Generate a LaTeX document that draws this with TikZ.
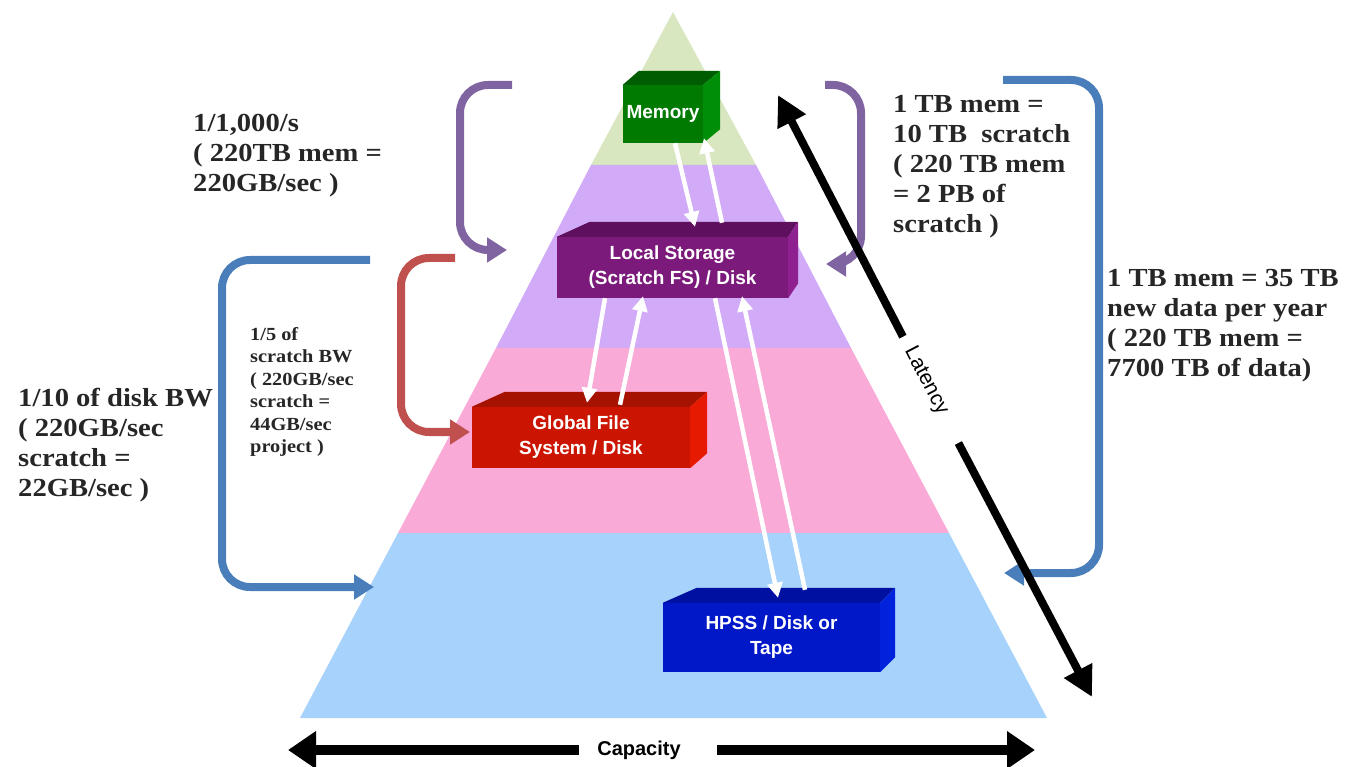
\documentclass[tikz,border=0pt]{standalone}
\usepackage{fontspec}
\setmainfont{Liberation Serif}[FakeStretch=1.1]
\newfontfamily\boxfont{Liberation Sans}
\usetikzlibrary{arrows.meta}
\definecolor{bandgreen}{HTML}{D8E7C0}
\definecolor{bandpurple}{HTML}{D1ABF7}
\definecolor{bandpink}{HTML}{F9AAD7}
\definecolor{bandblue}{HTML}{A6D2FB}
\definecolor{brpurple}{HTML}{8064A2}
\definecolor{brred}{HTML}{C0504D}
\definecolor{brblue}{HTML}{4A7EBB}
\definecolor{notegray}{HTML}{262626}
\definecolor{memfront}{HTML}{007A00}
\definecolor{memtop}{HTML}{005C00}
\definecolor{memside}{HTML}{008E08}
\definecolor{locfront}{HTML}{7B1A7B}
\definecolor{loctop}{HTML}{5E0F5E}
\definecolor{locside}{HTML}{8E2090}
\definecolor{glofront}{HTML}{CC1500}
\definecolor{glotop}{HTML}{A51200}
\definecolor{gloside}{HTML}{E51A00}
\definecolor{hpfront}{HTML}{0018C8}
\definecolor{hptop}{HTML}{0010A0}
\definecolor{hpside}{HTML}{0022DD}
\newcommand\cubefaces[6]{%
  \fill[#5] (#1.north west) -- ++(#2,-#4) -- ([xshift=#3pt,yshift=#4pt]#1.north east) -- (#1.north east) -- cycle;
  \fill[#6] (#1.north east) -- ([xshift=#3pt,yshift=#4pt]#1.north east) -- ([xshift=#3pt,yshift=#4pt]#1.south east) -- (#1.south east) -- cycle;}
\begin{document}
\begin{tikzpicture}[x=1pt,y=-1pt,
  note/.style={font=\fontsize{26}{30}\selectfont\bfseries, align=left, inner sep=0pt, text=notegray},
  smallnote/.style={font=\fontsize{18.5}{22.5}\selectfont\bfseries, align=left, inner sep=0pt, text=notegray},
  cubefront/.style={inner sep=0pt, text=white, font=\boxfont\bfseries\fontsize{19}{25}\selectfont, align=center},
  bracket/.style={line width=8pt, rounded corners=28pt, -{Triangle[length=20pt,width=24pt]}},
  whitearrow/.style={draw=white, line width=4.5pt, -{Triangle[length=15pt,width=15pt]}},
  blackarrow/.style={draw=black, line width=8pt, -{Triangle[length=30pt,width=30pt]}},
  caparrow/.style={draw=black, line width=10pt, -{Triangle[length=28pt,width=36pt]}}]
\useasboundingbox (0,0) rectangle (1345,767);
% pyramid bands
\fill[bandgreen] (673,12) -- (756,165) -- (591,165) -- cycle;
\fill[bandpurple] (591,165) -- (756,165) -- (851,348) -- (496,348) -- cycle;
\fill[bandpink] (496,348) -- (851,348) -- (949,533) -- (398,533) -- cycle;
\fill[bandblue] (398,533) -- (949,533) -- (1047,718) -- (300,718) -- cycle;
% boxes
\node[cubefront, fill=memfront, minimum width=80, minimum height=58] (mem) at (663,114) {Memory};
\cubefaces{mem}{16}{17}{14}{memtop}{memside}
\node[cubefront, fill=locfront, minimum width=231, minimum height=61] (loc) at (672.5,267.5) {Local Storage\\(Scratch FS) / Disk};
\cubefaces{loc}{33}{10}{15}{loctop}{locside}
\node[cubefront, fill=glofront, minimum width=218, minimum height=61] (glo) at (581,437.5) {Global File\\System / Disk};
\cubefaces{glo}{33}{17}{15}{glotop}{gloside}
\node[cubefront, fill=hpfront, minimum width=217, minimum height=69] (hp) at (771.5,637.5) {HPSS / Disk or\\Tape};
\cubefaces{hp}{34}{15}{15}{hptop}{hpside}
% white arrows
\draw[whitearrow] ([xshift=12pt]mem.south) -- ([xshift=22.5pt,yshift=10pt]loc.north);
\draw[whitearrow] ([xshift=49.5pt,yshift=14pt]loc.north) -- ([xshift=41pt,yshift=5pt]mem.south);
\draw[whitearrow] ([xshift=-67.5pt]loc.south) -- ([xshift=6pt,yshift=4pt]glo.north);
\draw[whitearrow] ([xshift=39pt,yshift=2pt]glo.north) -- ([xshift=-29.5pt,yshift=2pt]loc.south);
\draw[whitearrow] ([xshift=42.5pt]loc.south) -- ([xshift=6.5pt,yshift=5pt]hp.north);
\draw[whitearrow] ([xshift=33.5pt,yshift=13pt]hp.north) -- ([xshift=69.5pt,yshift=2pt]loc.south);
% notes (anchored at the baseline of their last line)
\node[note, anchor=base west] (tl) at (193,192) {1/1,000/s\\( 220TB mem =\\220GB/sec )};
\node[note, anchor=base west] (tr) at (893,233) {1 TB mem =\\10 TB\ \ scratch\\( 220 TB mem\\= 2 PB of\\scratch )};
\node[note, anchor=base west] (rm) at (1107,377) {1 TB mem = 35 TB\\new data per year\\( 220 TB mem =\\7700 TB of data)};
\node[note, anchor=base west] (lm) at (18,496) {1/10 of disk BW\\( 220GB/sec\\scratch =\\22GB/sec )};
\node[smallnote, anchor=base west] (fm) at (250,453) {1/5 of\\scratch BW\\( 220GB/sec\\scratch =\\44GB/sec\\project )};
% brackets
\coordinate (pla) at (512,85);  \coordinate (plb) at (507,250);
\coordinate (pra) at (825,85);  \coordinate (prb) at (826,264);
\coordinate (rda) at (455,258); \coordinate (rdb) at (470,432);
\coordinate (bla) at (370,260); \coordinate (blb) at (374,587);
\coordinate (bra) at (1003,80); \coordinate (brb) at (1004,573);
\draw[bracket, brpurple] (pla) -- (460,85) -- (460,250) -- (plb);
\draw[bracket, brpurple] (pra) -- (861,85) -- (861,264) -- (prb);
\draw[bracket, brred] (rda) -- (401,258) -- (401,432) -- (rdb);
\draw[bracket, brblue] (bla) -- (222,260) -- (222,587) -- (blb);
\draw[bracket, brblue] (bra) -- (1099,80) -- (1099,573) -- (brb);
% latency
\node[font=\boxfont\fontsize{21}{21}\selectfont, rotate=-62.5, inner xsep=13pt, inner ysep=0pt] (lat) at (926,381) {Latency};
\coordinate (latTop) at (778,95);
\coordinate (latBot) at (1092,697);
\draw[blackarrow] (lat.west) -- (latTop);
\draw[blackarrow, shorten <=20pt] (lat.east) -- (latBot);
% capacity
\node[cubefront, text=black, font=\boxfont\bfseries\fontsize{20}{20}\selectfont] (cap) at (639,750) {Capacity};
\coordinate (capL) at (288,750);
\coordinate (capR) at (1035,750);
\draw[caparrow, shorten <=18pt] (cap.west) -- (capL);
\draw[caparrow, shorten <=36pt] (cap.east) -- (capR);
\end{tikzpicture}
\end{document}
